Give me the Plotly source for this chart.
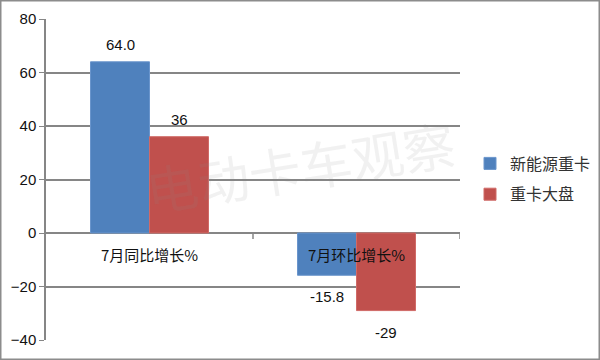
import plotly.graph_objects as go

categories = ["7月同比增长%", "7月环比增长%"]
series_names = ["新能源重卡", "重卡大盘"]
nev_values = [64.0, -15.8]
total_values = [36, -29]
nev_labels = ["64.0", "-15.8"]
total_labels = ["36", "-29"]
y_ticks = [-40, -20, 0, 20, 40, 60, 80]

W, H = 600, 360
ml, mr, mt, mb = 46, 140, 19, 20
pw = W - ml - mr
ph = H - mt - mb
GRID = "#868686"
LABEL_FONT = dict(size=15, color="#111", family="Liberation Sans, Arial")

fig = go.Figure()
fig.add_trace(go.Bar(
    x=categories, y=nev_values, name=series_names[0],
    marker=dict(color="#4F81BD", line=dict(color="#6A95CC", width=1)),
    legendgroup="a",
))
fig.add_trace(go.Bar(
    x=categories, y=total_values, name=series_names[1],
    marker=dict(color="#C0504D", line=dict(color="#D06A67", width=1)),
    legendgroup="b",
))

# value labels
half = 29.5
for vals, labs, xs in [(nev_values, nev_labels, -half), (total_values, total_labels, half)]:
    for c, v, t in zip(categories, vals, labs):
        fig.add_annotation(x=c, y=v, xref="x", yref="y", text=t, showarrow=False,
                           xshift=xs, yanchor="bottom" if v >= 0 else "top",
                           yshift=7 if v >= 0 else -11, font=LABEL_FONT)

# category labels below the zero line
for c in categories:
    fig.add_annotation(x=c, y=0, xref="x", yref="y", text=c, showarrow=False,
                       yanchor="top", yshift=-9,
                       font=dict(size=15, color="#111", family="Noto Sans CJK SC"))

# category boundary tick marks on zero line
for xb in [0.5, 1.5]:
    fig.add_shape(type="line", xref="x", yref="y", x0=xb, x1=xb, y0=0, y1=-2.2,
                  line=dict(color=GRID, width=1.5))

# watermark
fig.add_annotation(x=(300 - ml) / pw, y=1 - (165 - mt) / ph, xref="paper", yref="paper",
                   text="电动卡车观察", showarrow=False, textangle=-9,
                   font=dict(size=52, color="rgba(140,140,140,0.12)", family="Noto Sans CJK SC"))

# outer border
fig.add_shape(type="rect", xref="paper", yref="paper",
              x0=(0.75 - ml) / pw, x1=(W - 0.75 - ml) / pw,
              y0=-(mb - 0.75) / ph, y1=1 + (mt - 0.75) / ph,
              line=dict(color="#8C8C8C", width=1.5), layer="below")

fig.update_layout(
    width=W, height=H,
    margin=dict(l=ml, r=mr, t=mt, b=mb, autoexpand=False),
    plot_bgcolor="white", paper_bgcolor="white",
    barmode="group", bargap=0.43, bargroupgap=0,
    showlegend=True,
    legend=dict(x=(470 - ml) / pw, y=1 - (179 - mt) / ph, xanchor="left", yanchor="middle",
                font=dict(size=16, color="#333", family="Noto Sans CJK SC"),
                tracegroupgap=7, itemwidth=30),
    xaxis=dict(showticklabels=False, showgrid=False, showline=False, ticks="",
               range=[-0.5, 1.5]),
    yaxis=dict(range=[-40, 80], tickvals=y_ticks, showgrid=True, gridcolor=GRID,
               gridwidth=1.5, zeroline=True, zerolinecolor=GRID, zerolinewidth=1.5,
               showline=True, linecolor=GRID, linewidth=1.5, ticks="outside",
               ticklen=5, tickcolor=GRID,
               tickfont=dict(size=15, color="#111", family="Liberation Sans, Arial")),
)

fig.write_html("out.html", config={"displayModeBar": False},
               post_script="document.body.style.margin='0';document.body.style.overflow='hidden';")
